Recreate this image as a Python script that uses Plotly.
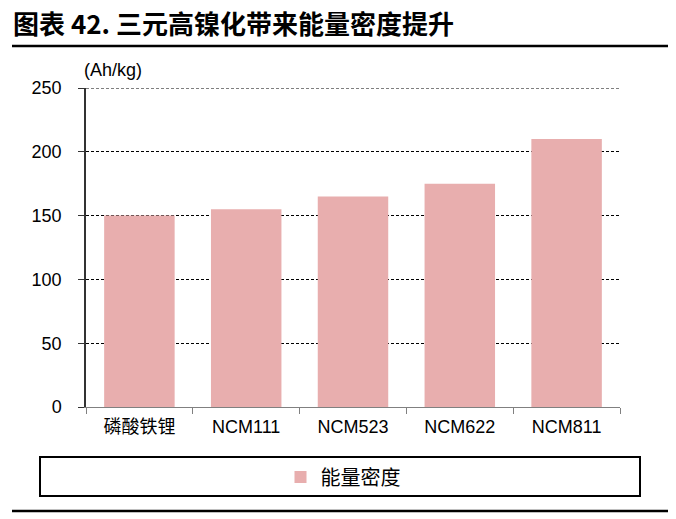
import plotly.graph_objects as go

categories = ["磷酸铁锂", "NCM111", "NCM523", "NCM622", "NCM811"]
energy_density = [150, 155, 165, 175, 210]
series_name = "能量密度"
y_ticks = [0, 50, 100, 150, 200, 250]
title_text = "<b>图表 42. 三元高镍化带来能量密度提升</b>"
unit_text = "(Ah/kg)"

W, H = 676, 519
L, R, T, B = 86, 56, 88, 112
pw, ph = W - L - R, H - T - B

def px(x):
    return (x - L) / pw

def py(y):
    return (H - B - y) / ph

font_fam = "Liberation Sans, Arial, Noto Sans CJK SC"
cjk_fam = "Noto Sans CJK SC, Liberation Sans"

fig = go.Figure()
fig.add_trace(go.Bar(
    x=categories, y=energy_density, name=series_name,
    marker=dict(color="#E8AEAE", line=dict(width=0)),
    showlegend=True,
))

fig.update_layout(
    width=W, height=H,
    margin=dict(l=L, r=R, t=T, b=B),
    paper_bgcolor="white", plot_bgcolor="white",
    bargap=0.34,
    showlegend=True,
    title=dict(text=title_text, x=13 / W, xanchor="left", xref="container",
               y=1 - 25 / H, yanchor="middle", yref="container",
               font=dict(family="Noto Sans CJK SC, Liberation Sans", size=26, color="black")),
    legend=dict(orientation="h", x=px(343), xanchor="center", y=py(477), yanchor="middle",
                font=dict(family=cjk_fam, size=20, color="black"),
                bgcolor="rgba(0,0,0,0)", borderwidth=0),
    font=dict(family=font_fam, size=18, color="black"),
)

fig.update_xaxes(
    showline=True, linecolor="#808080", linewidth=1,
    ticks="outside", tickson="boundaries", ticklen=6, tickcolor="#808080",
    tickfont=dict(family=font_fam, size=18, color="black"),
    ticklabelstandoff=3,
    showgrid=False,
)
fig.update_yaxes(
    range=[0, 250], tickvals=y_ticks,
    showline=True, linecolor="#333333", linewidth=1.5,
    ticks="outside", ticklen=6, tickcolor="#333333",
    tickfont=dict(family=font_fam, size=18, color="black"),
    ticklabelstandoff=13,
    showgrid=True, gridcolor="black", gridwidth=1, griddash="3px,2px",
    zeroline=False,
)

# top gridline at the range edge (drawn from the data's own axis value)
fig.add_shape(type="line", xref="paper", yref="y",
              x0=0, x1=1, y0=y_ticks[-1], y1=y_ticks[-1],
              line=dict(color="black", width=1, dash="3px,2px"), layer="below")

fig.add_annotation(text=unit_text, xref="paper", yref="paper",
                   x=px(82), y=py(70), xanchor="left", yanchor="middle",
                   showarrow=False, font=dict(family=font_fam, size=18, color="black"))

# title underline
fig.add_shape(type="line", xref="paper", yref="paper",
              x0=px(12), x1=px(668), y0=py(46), y1=py(46),
              line=dict(color="black", width=2.5))
# legend box
fig.add_shape(type="rect", xref="paper", yref="paper",
              x0=px(40), x1=px(640), y0=py(457), y1=py(496),
              line=dict(color="black", width=2), fillcolor="rgba(0,0,0,0)")
# bottom line
fig.add_shape(type="line", xref="paper", yref="paper",
              x0=px(12), x1=px(668), y0=py(511), y1=py(511),
              line=dict(color="black", width=2.5))

fig.write_html("out.html")
